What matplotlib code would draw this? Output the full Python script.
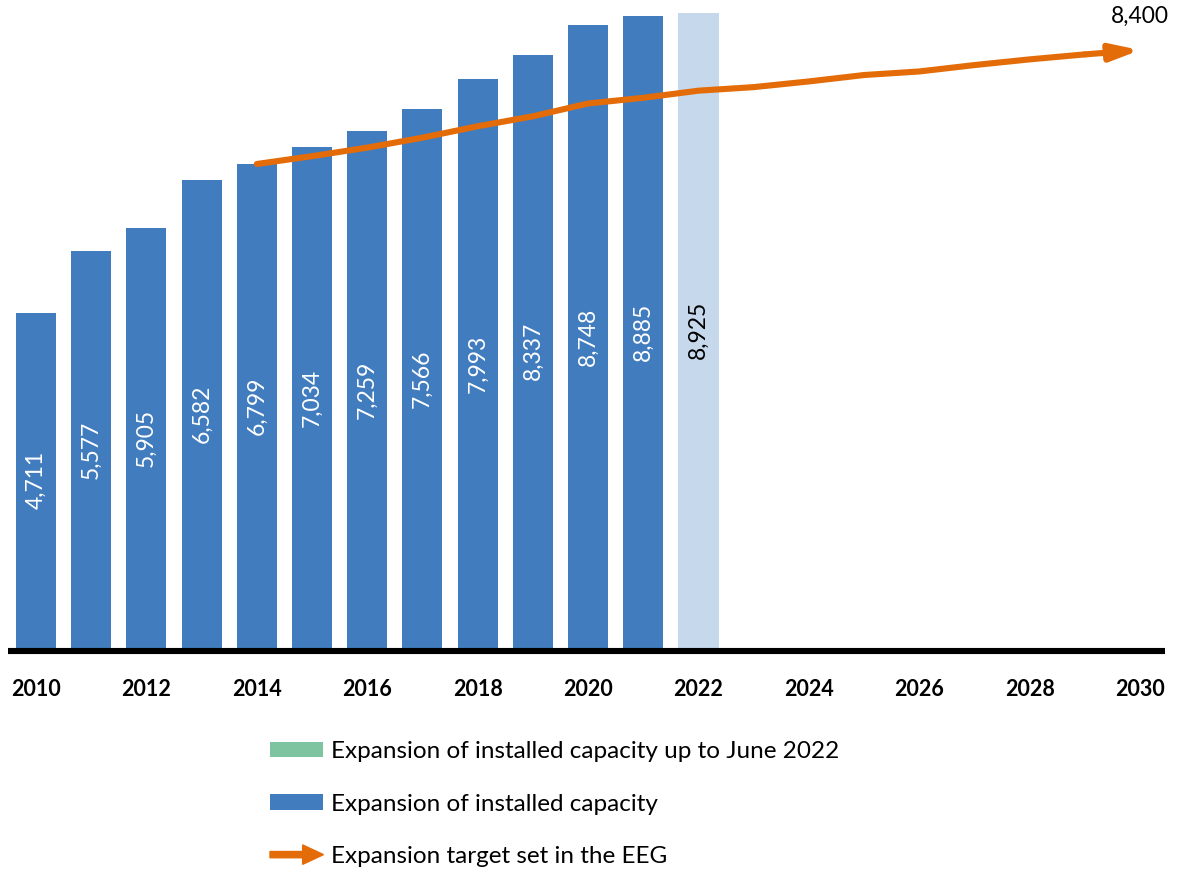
import matplotlib
matplotlib.use("Agg")
import matplotlib.pyplot as plt
from matplotlib.patches import Patch, FancyArrow
from matplotlib.legend_handler import HandlerBase

# Installed capacity (MW) per year
years = [2010, 2011, 2012, 2013, 2014, 2015, 2016, 2017, 2018, 2019, 2020, 2021, 2022]
capacity = [4711, 5577, 5905, 6582, 6799, 7034, 7259, 7566, 7993, 8337, 8748, 8885, 8925]

# Expansion path set in the EEG (MW)
target_years = [2014, 2015, 2016, 2017, 2018, 2019, 2020, 2021, 2022,
                2023, 2024, 2025, 2026, 2027, 2028, 2029, 2030]
target = [6800, 6910, 7030, 7170, 7330, 7470, 7650, 7730, 7830,
          7880, 7960, 8050, 8100, 8190, 8270, 8340, 8400]

tick_years = [2010, 2012, 2014, 2016, 2018, 2020, 2022, 2024, 2026, 2028, 2030]

legend_labels = ["Expansion of installed capacity up to June 2022",
                 "Expansion of installed capacity",
                 "Expansion target set in the EEG"]

BLUE = "#417cbe"
LIGHT_BLUE = "#c5d8ec"
GREEN = "#7fc4a0"
ORANGE = "#e36c09"

plt.rcParams["font.family"] = ["Lato", "DejaVu Sans"]

fig = plt.figure(figsize=(11.79, 8.72), dpi=100)
ax = fig.add_axes([8 / 1179, (872 - 648) / 872, 1157 / 1179, 648 / 872])

for s in ["top", "left", "right"]:
    ax.spines[s].set_visible(False)
ax.spines["bottom"].set_linewidth(4.4)
ax.spines["bottom"].set_position(("outward", 2.2))
ax.spines["bottom"].set_capstyle("butt")

bar_colors = [BLUE] * (len(years) - 1) + [LIGHT_BLUE]
label_colors = ["white"] * (len(years) - 1) + ["black"]
bars = ax.bar(years, capacity, width=0.725, color=bar_colors, zorder=2)

for b, v, c in zip(bars, capacity, label_colors):
    ax.text(b.get_x() + b.get_width() / 2, v / 2, f"{v:,}", rotation=90,
            ha="center", va="center", color=c, fontsize=16.5, zorder=3)

# Target path with arrow head on the final segment
ax.plot(target_years[:-1], target[:-1], color=ORANGE, lw=4.4,
        solid_capstyle="round", solid_joinstyle="round", zorder=4)
ax.annotate("", xy=(target_years[-1], target[-1]),
            xytext=(target_years[-2], target[-2]),
            arrowprops=dict(arrowstyle="-|>,head_length=17,head_width=5",
                            mutation_scale=1, color=ORANGE, lw=4.4,
                            shrinkA=0, shrinkB=0),
            zorder=4)
ax.annotate(f"{target[-1]:,}", xy=(target_years[-1], target[-1]),
            xytext=(0, 24), textcoords="offset points",
            ha="center", va="center", fontsize=16.5, color="black")

ax.set_xlim(2009.493, 2030.45)
ax.set_ylim(0, 9104)
ax.set_yticks([])
ax.set_xticks(tick_years)
ax.set_xticklabels([str(t) for t in tick_years])
ax.tick_params(axis="x", length=0, pad=20, labelsize=15.5)
for lbl in ax.get_xticklabels():
    lbl.set_fontweight("bold")


class ArrowHandler(HandlerBase):
    def create_artists(self, legend, orig_handle, xdescent, ydescent,
                       width, height, fontsize, trans):
        y = height / 2 - ydescent
        arr = FancyArrow(-xdescent, y, width, 0, width=4.5,
                         head_width=14, head_length=15,
                         length_includes_head=True, color=ORANGE,
                         transform=trans)
        return [arr]


handles = [Patch(facecolor=GREEN), Patch(facecolor=BLUE), object()]
hmap = {handles[2]: ArrowHandler()}
fig.legend(handles, legend_labels, handler_map=hmap, loc="upper left",
           bbox_to_anchor=(270 / 1179, (872 - 741) / 872), frameon=False,
           fontsize=17.5, handlelength=2.2, handleheight=0.6,
           handletextpad=0.3, labelspacing=1.3, borderpad=0,
           borderaxespad=0)

fig.savefig("out.png", dpi=100)
